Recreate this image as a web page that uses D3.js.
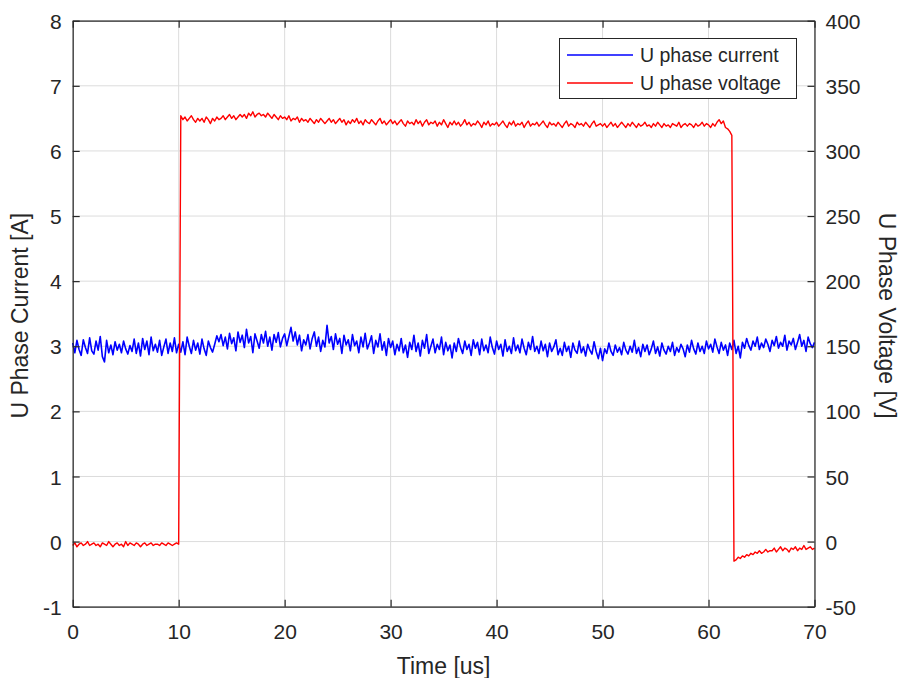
<!DOCTYPE html>
<html>
<head>
<meta charset="utf-8">
<script src="https://cdn.jsdelivr.net/npm/d3@7"></script>
<style>
  html, body { margin: 0; padding: 0; background: #fff; }
  svg { display: block; }
  text { font-family: "Liberation Sans", Arial, Helvetica, sans-serif; fill: #262626; }
</style>
</head>
<body>
<svg id="chart" width="900" height="678"></svg>
<script>
// ---- Data ----
const sampleStep = 0.2; // us between samples, t = i * sampleStep
const xTicks = [0, 10, 20, 30, 40, 50, 60, 70];
const yLeftTicks = [-1, 0, 1, 2, 3, 4, 5, 6, 7, 8];
const yRightTicks = [-50, 0, 50, 100, 150, 200, 250, 300, 350, 400];
const seriesNames = ["U phase current", "U phase voltage"];

// U phase current [A], samples every 0.2 us from 0 to 70 us
const currentA = [
  3.05, 2.90, 3.09, 2.95, 2.86, 3.10, 2.98, 2.89, 3.13, 2.93,
  2.88, 3.08, 2.94, 3.15, 2.84, 2.76, 3.09, 2.90, 3.02, 2.87,
  3.07, 2.94, 3.03, 2.90, 3.08, 2.96, 2.88, 3.01, 2.92, 3.11,
  2.89, 3.05, 2.85, 3.12, 2.95, 3.08, 2.87, 3.14, 2.93, 3.03,
  2.91, 3.09, 2.86, 2.99, 3.11, 2.89, 3.05, 2.92, 3.13, 2.90,
  3.03, 2.91, 3.07, 2.87, 3.14, 3.00, 2.89, 3.09, 2.94, 3.05,
  2.88, 3.11, 2.96, 2.86, 3.08, 2.98, 2.91, 3.03, 3.16, 3.07,
  3.18, 3.01, 3.14, 2.96, 3.20, 3.04, 3.13, 2.93, 3.22, 3.06,
  3.17, 2.98, 3.26, 3.05, 3.15, 2.90, 3.19, 3.08, 2.97, 3.18,
  3.05, 3.23, 3.00, 3.14, 2.94, 3.18, 3.06, 3.21, 2.99, 3.12,
  3.19, 3.01, 3.15, 3.29, 3.08, 3.22, 3.02, 3.17, 2.93, 3.10,
  3.02, 3.18, 2.96, 3.12, 3.22, 3.00, 3.14, 2.92, 3.09, 2.99,
  3.32, 3.05, 3.15, 2.95, 3.19, 3.03, 3.12, 2.89, 3.17, 3.02,
  3.10, 2.93, 3.18, 3.01, 3.08, 2.90, 3.14, 2.99, 3.20, 2.96,
  3.05, 3.16, 2.89, 3.09, 2.99, 3.19, 2.94, 3.07, 2.86, 3.12,
  2.98, 3.08, 2.87, 3.03, 2.93, 3.12, 2.90, 3.02, 2.83, 3.06,
  2.95, 3.17, 2.92, 3.05, 2.85, 3.09, 2.97, 3.18, 2.89, 3.00,
  3.11, 2.90, 3.03, 2.95, 3.14, 2.87, 3.06, 2.93, 3.02, 2.82,
  3.05, 2.92, 3.12, 2.98, 2.89, 3.08, 2.95, 3.03, 2.86, 3.10,
  2.97, 3.06, 2.87, 3.11, 2.93, 3.02, 2.90, 3.14, 2.98, 2.88,
  3.08, 2.95, 3.03, 2.85, 3.10, 2.92, 3.00, 2.89, 3.13, 2.93,
  3.02, 2.90, 3.11, 2.97, 2.87, 3.06, 2.95, 3.15, 2.92, 3.00,
  2.89, 3.08, 2.93, 3.03, 2.84, 3.05, 2.92, 2.99, 3.10, 2.87,
  2.97, 2.86, 3.06, 2.92, 3.00, 2.83, 3.05, 2.94, 2.89, 3.08,
  2.90, 2.99, 2.85, 3.03, 2.94, 2.88, 3.07, 2.92, 2.81, 2.97,
  2.78, 2.96, 2.89, 3.05, 2.92, 2.86, 3.02, 2.91, 2.98, 2.87,
  3.06, 2.94, 2.88, 3.00, 2.91, 3.09, 2.89, 2.98, 2.84, 3.03,
  2.92, 3.02, 2.87, 2.96, 3.08, 2.89, 2.99, 2.85, 3.05, 2.94,
  2.88, 3.00, 2.92, 3.06, 2.86, 2.98, 2.91, 3.03, 2.96, 2.84,
  3.02, 2.91, 3.09, 2.96, 2.88, 3.05, 2.92, 3.00, 2.89, 3.08,
  2.96, 3.03, 2.91, 3.11, 2.99, 2.89, 3.06, 2.94, 3.02, 2.86,
  3.05, 2.95, 3.09, 2.89, 3.00, 2.82, 3.06, 2.97, 3.12, 3.01,
  2.94, 3.08, 3.00, 3.14, 2.95, 3.05, 2.98, 3.11, 3.03, 2.92,
  3.09, 3.01, 3.15, 2.97, 3.06, 3.00, 3.17, 2.94, 3.08, 3.02,
  3.12, 2.95, 3.06, 3.18, 3.00, 3.09, 2.92, 3.14, 3.04, 2.98,
  3.06
];

// U phase voltage [V], samples every 0.2 us from 0 to 70 us
const voltageV = [
  -3, -1, -4, -2, -1, -3, -2, 0, -3, -2,
  -1, -3, -2, -4, -1, -2, -3, 0, -2, -4,
  -2, -1, -3, -2, -4, 0, -3, -1, -2, -3,
  -1, -2, -4, -2, -1, -3, -2, -1, -3, -2,
  -2, -3, -1, -2, -3, -1, -2, -3, -2, -1,
  -2, 327, 324, 326, 323, 325, 327, 324, 322, 325,
  323, 325, 322, 326, 324, 321, 325, 323, 326, 324,
  325, 327, 324, 326, 328, 325, 327, 324, 326, 328,
  326, 328, 325, 329, 327, 330, 326, 328, 329, 327,
  328, 326, 329, 327, 325, 328, 326, 324, 327, 325,
  326, 324, 327, 323, 325, 324, 326, 322, 325, 323,
  324, 322, 325, 323, 321, 324, 322, 325, 323, 321,
  323, 325, 322, 324, 321, 323, 325, 322, 324, 320,
  323, 321, 324, 322, 325, 321, 323, 320, 324, 322,
  321, 324, 322, 320, 323, 325, 321, 323, 320, 322,
  324, 321, 323, 320, 322, 324, 321, 319, 323, 321,
  322, 320, 324, 321, 323, 319, 322, 324, 320, 322,
  321, 323, 319, 322, 320, 324, 321, 318, 322, 320,
  323, 320, 322, 319, 321, 324, 320, 322, 319, 321,
  320, 323, 321, 318, 322, 320, 323, 319, 321, 320,
  322, 319, 321, 323, 320, 318, 322, 320, 323, 319,
  321, 320, 322, 318, 321, 323, 319, 321, 320, 322,
  319, 321, 323, 320, 318, 322, 320, 321, 319, 322,
  320, 318, 321, 323, 319, 321, 320, 318, 322, 320,
  321, 319, 322, 320, 318, 321, 323, 319, 320, 321,
  319, 321, 318, 320, 322, 319, 321, 318, 320, 322,
  320, 318, 321, 319, 322, 320, 318, 321, 319, 320,
  322, 319, 320, 318, 321, 319, 322, 320, 318, 321,
  319, 320, 318, 321, 320, 319, 322, 318, 320, 321,
  319, 321, 320, 318, 321, 319, 320, 322, 319, 321,
  320, 318, 321, 319, 322, 324, 321, 323, 318, 317,
  315, 312, -15, -14, -12, -13, -11, -12, -10, -11,
  -9, -10, -8, -9, -7, -9, -8, -6, -8, -7,
  -7, -5, -8, -6, -4, -7, -5, -6, -8, -5,
  -6, -4, -7, -5, -6, -3, -6, -5, -4, -6,
  -5
];

// ---- Layout ----
const plot = { left: 72.7, right: 814.5, top: 20.7, bottom: 606.7 };
const ink = "#262626";

const svg = d3.select("#chart");

const x = d3.scaleLinear().domain([0, 70]).range([plot.left, plot.right]);
const yL = d3.scaleLinear().domain([-1, 8]).range([plot.bottom, plot.top]);
const yR = d3.scaleLinear().domain([-50, 400]).range([plot.bottom, plot.top]);

// grid
const grid = svg.append("g");
grid.selectAll("line.gx").data(xTicks).join("line")
  .attr("x1", d => x(d)).attr("x2", d => x(d))
  .attr("y1", plot.top).attr("y2", plot.bottom)
  .attr("stroke", "#dcdcdc").attr("stroke-width", 1);
grid.selectAll("line.gy").data(yLeftTicks).join("line")
  .attr("x1", plot.left).attr("x2", plot.right)
  .attr("y1", d => yL(d)).attr("y2", d => yL(d))
  .attr("stroke", "#dcdcdc").attr("stroke-width", 1);

// series
const tOf = i => i * sampleStep;
const lineCur = d3.line().x((d, i) => x(tOf(i))).y(d => yL(d));
const lineVol = d3.line().x((d, i) => x(tOf(i))).y(d => yR(d));

svg.append("path").datum(currentA)
  .attr("d", lineCur).attr("fill", "none")
  .attr("stroke", "#0000ff").attr("stroke-width", 1.6).attr("stroke-linejoin", "round");
svg.append("path").datum(voltageV)
  .attr("d", lineVol).attr("fill", "none")
  .attr("stroke", "#ff0000").attr("stroke-width", 1.4).attr("stroke-linejoin", "round");

// axes
const tickLen = 7;
const fmt = d => String(d);
const axB = svg.append("g").attr("transform", `translate(0,${plot.bottom})`)
  .call(d3.axisBottom(x).tickValues(xTicks).tickFormat(fmt).tickSizeInner(-tickLen).tickSizeOuter(0).tickPadding(tickLen + 10));
const axT = svg.append("g").attr("transform", `translate(0,${plot.top})`)
  .call(d3.axisTop(x).tickValues(xTicks).tickSizeInner(-tickLen).tickSizeOuter(0).tickFormat(""));
const axL = svg.append("g").attr("transform", `translate(${plot.left},0)`)
  .call(d3.axisLeft(yL).tickValues(yLeftTicks).tickFormat(fmt).tickSizeInner(-tickLen).tickSizeOuter(0).tickPadding(tickLen + 4));
const axR = svg.append("g").attr("transform", `translate(${plot.right},0)`)
  .call(d3.axisRight(yR).tickValues(yRightTicks).tickFormat(fmt).tickSizeInner(-tickLen).tickSizeOuter(0).tickPadding(tickLen + 4));

[axB, axT, axL, axR].forEach(a => {
  a.select(".domain").attr("stroke", ink).attr("stroke-width", 1.2);
  a.selectAll(".tick line").attr("stroke", ink).attr("stroke-width", 1.2);
  a.selectAll(".tick text").attr("fill", ink)
    .style("font-family", '"Liberation Sans", Arial, sans-serif')
    .style("font-size", "21px");
});
axB.selectAll(".tick text").attr("dy", "0.71em");
axL.selectAll(".tick text").attr("dy", "0.36em");
axR.selectAll(".tick text").attr("dy", "0.36em");

// axis labels
svg.append("text").attr("x", (plot.left + plot.right) / 2).attr("y", 674)
  .attr("text-anchor", "middle").style("font-size", "23px").text("Time [us]");
svg.append("text")
  .attr("transform", `translate(28,${(plot.top + plot.bottom) / 2 + 2}) rotate(-90)`)
  .attr("text-anchor", "middle").style("font-size", "23px").text("U Phase Current [A]");
svg.append("text")
  .attr("transform", `translate(879,${(plot.top + plot.bottom) / 2 + 2}) rotate(90)`)
  .attr("text-anchor", "middle").style("font-size", "23px").text("U Phase Voltage [V]");

// legend
const leg = svg.append("g");
leg.append("rect").attr("x", 559.5).attr("y", 38.5).attr("width", 237).attr("height", 60)
  .attr("fill", "#fff").attr("stroke", ink).attr("stroke-width", 1);
const legColors = ["#0000ff", "#ff0000"];
seriesNames.forEach((name, i) => {
  const cy = 55 + i * 28;
  leg.append("line").attr("x1", 567).attr("x2", 633).attr("y1", cy).attr("y2", cy)
    .attr("stroke", legColors[i]).attr("stroke-width", 1.4);
  leg.append("text").attr("x", 640).attr("y", cy).attr("dy", "0.36em")
    .style("font-size", "19.5px").text(name);
});
</script>
</body>
</html>
